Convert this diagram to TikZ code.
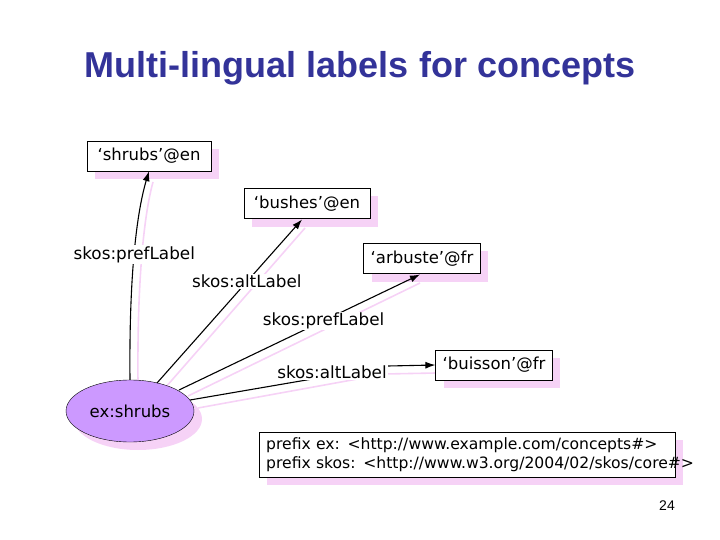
\documentclass[tikz,border=0pt]{standalone}
\usepackage{fontspec}
\setmainfont{DejaVu Sans}
\newfontfamily\titlefont{Liberation Sans}
\usetikzlibrary{arrows.meta,shapes.geometric}
\definecolor{shad}{HTML}{F6D2F6}
\definecolor{lav}{HTML}{CC99FF}
\definecolor{ttl}{HTML}{333399}
\tikzset{
 lit/.style={draw=black,fill=white,minimum height=30pt,inner xsep=7pt,font=\fontsize{16.5}{16.5}\selectfont},
 edge/.style={-{Latex[length=10pt,width=7pt]},line width=1.1pt},
 shadedge/.style={line width=1.6pt,shad},
 elab/.style={fill=white,inner sep=1pt,font=\fontsize{16.8}{16.8}\selectfont}
}
\begin{document}
\begin{tikzpicture}[x=1pt,y=-1pt]
\useasboundingbox (0,0) rectangle (720,540);
\node[font=\titlefont\bfseries\fontsize{36}{36}\selectfont,text=ttl] (title) at (360,68) {Multi-lingual labels for concepts};
% shadows
\fill[shad] (95,149) rectangle (219,179);
\fill[shad] (252,196) rectangle (378,227);
\fill[shad] (372,251) rectangle (488,282);
\fill[shad] (444,358) rectangle (560,388);
\fill[shad] (138,419) ellipse (64 and 31);
\fill[shad] (267,440) rectangle (683,485);
\draw[shadedge] (138,384) .. controls (137,280) and (144,215) .. (153,182);
\draw[shadedge] (165,388) -- (305,228);
\draw[shadedge] (188,396) -- (420,283);
\draw[shadedge] (198,408) -- (385,374) -- (436,373);
% nodes
\node[lit,minimum width=124pt] (shrubs) at (149,156) {‘shrubs’@en};
\node[lit,minimum width=126pt] (bushes) at (307,203.5) {‘bushes’@en};
\node[lit,minimum width=116pt] (arbuste) at (422,258.5) {‘arbuste’@fr};
\node[lit,minimum width=116pt] (buisson) at (494,365) {‘buisson’@fr};
\node[ellipse,draw=black,fill=lav,minimum width=128pt,minimum height=62pt,font=\fontsize{16.5}{16.5}\selectfont] (ex) at (130,411) {ex:shrubs};
\node[draw=black,fill=white,minimum width=416pt,minimum height=45pt,align=left,font=\fontsize{15.6}{19}\selectfont,anchor=north west,text width=402pt,inner xsep=4pt] (pre) at (259,432) {prefix ex: <http://www.example.com/concepts\#>\\prefix skos: <http://www.w3.org/2004/02/skos/core\#>};
% edges
\draw[edge] (ex.north) .. controls (129,280) and (136,215) .. (shrubs.south)
  node[elab,pos=0.5] (l1) {skos:prefLabel};
\draw[edge] (157,383) -- (302,219.5) node[elab,pos=0.62] (l2) {skos:altLabel};
\draw[edge] (179,390) -- (420,274.5) node[elab,pos=0.6] (l3) {skos:prefLabel};
\coordinate (bend) at (388,366);
\draw[edge] (190,400) -- (bend) -- (buisson.west);
\node[elab] (l4) at (332,372) {skos:altLabel};
\node[font=\titlefont\fontsize{14}{14}\selectfont] (pg) at (667,506) {24};
\end{tikzpicture}
\end{document}
